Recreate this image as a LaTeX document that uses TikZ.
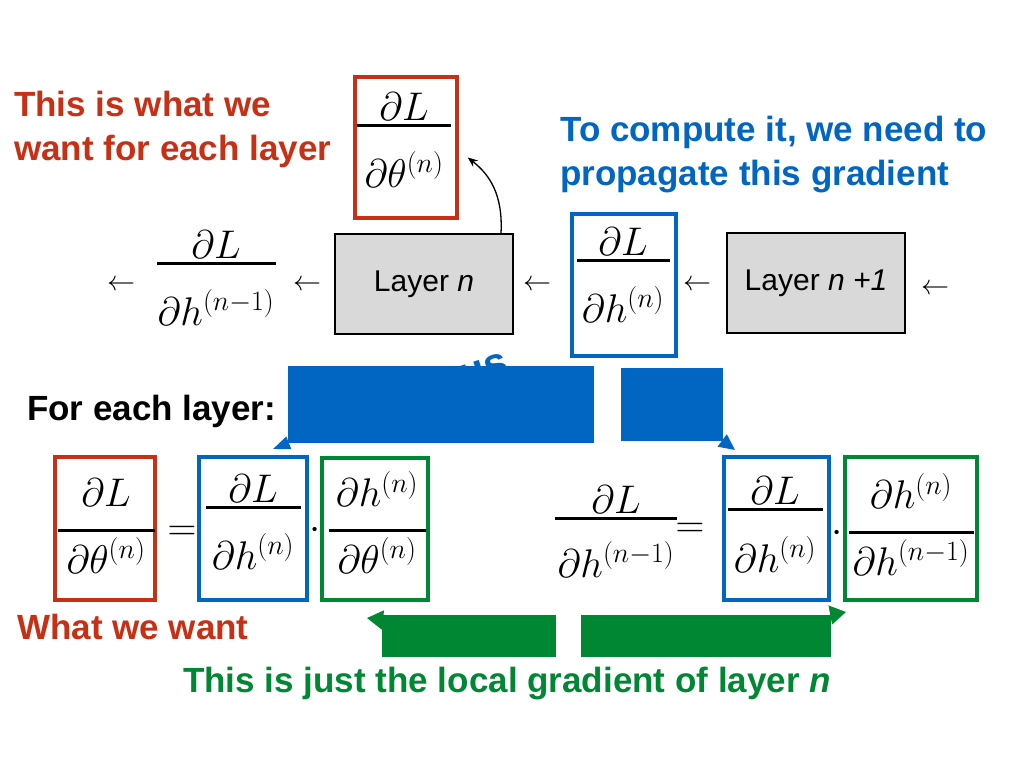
\documentclass[tikz,border=0pt]{standalone}
\usepackage{fix-cm}
\usepackage[no-math]{fontspec}
\setmainfont{Liberation Sans}
\usetikzlibrary{positioning,arrows.meta}

\definecolor{wantred}{RGB}{200,48,22}
\definecolor{propblue}{RGB}{0,102,194}
\definecolor{localgreen}{RGB}{0,135,52}
\definecolor{layergray}{RGB}{217,217,217}

\tikzset{
  gradbox/.style={draw, line width=3.5pt, inner sep=0pt},
  layerbox/.style={draw, line width=2pt, fill=layergray, minimum width=178pt,
    minimum height=100pt, font=\fontsize{30}{34}\selectfont},
  fbar/.style={fill=black, inner sep=0pt, minimum height=3pt},
  mtxt/.style={inner sep=0pt, font=\fontsize{40}{44}\selectfont},
  sym/.style={inner sep=0pt, anchor=base, font=\fontsize{40}{44}\selectfont},
  larrow/.style={inner sep=0pt, anchor=base, font=\fontsize{28}{30}\selectfont},
  note/.style={inner sep=0pt, font=\bfseries\fontsize{35}{44}\selectfont,
    align=left, anchor=north west},
  cover/.style={inner sep=0pt, draw=none},
}

% fraction: name, position, bar width, num gap, den gap, numerator, denominator
\newcommand\gfrac[7]{%
  \node[fbar, minimum width=#3] (#1) at #2 {};
  \node[mtxt, above=#4 of #1, anchor=base] (#1n) {$#6$};
  \node[mtxt, below=#5 of #1, anchor=base] (#1d) {$#7$};
}

\begin{document}
\begin{tikzpicture}[x=1pt, y=-1pt]
\useasboundingbox[fill=white] (0,0) rectangle (1024,768);

% what we want
\node[note, text=wantred] (wanttxt) at (14,91) {This is what we\\want for each layer};
\node[gradbox, draw=wantred, minimum width=102pt, minimum height=141pt] (wantbox) at (406,147.5) {};
\gfrac{fa}{(404,125)}{94pt}{2.5pt}{60.5pt}{\partial L}{\partial\theta^{(n)}}

\node[note, text=propblue] (proptxt) at (560,116) {To compute it, we need to\\propagate this gradient};

% chain of layers
\node[larrow] (a1) at (121,290) {$\leftarrow$};
\gfrac{fb}{(216,263)}{119pt}{2.5pt}{60.5pt}{\partial L}{\partial h^{(n-1)}}
\node[larrow] (a2) at (307,290) {$\leftarrow$};
\node[layerbox] (layern) at (424,284) {Layer \textit{n}};
\node[larrow] (a3) at (537,290) {$\leftarrow$};
\node[gradbox, draw=propblue, minimum width=104pt, minimum height=142pt] (propbox) at (624,285) {};
\gfrac{fc}{(623,260)}{93pt}{2.5pt}{60.5pt}{\partial L}{\partial h^{(n)}}
\node[larrow] (a4) at (697,290) {$\leftarrow$};
\node[layerbox] (layernn) at (816,283) {Layer \textit{n +1}};
\node[larrow] (a5) at (935,294) {$\leftarrow$};

\draw[line width=1.3pt, -{Stealth[length=10pt,width=8pt]}] ([xshift=-13pt]layern.north east)
  .. controls (503,195) and (490,175) .. ([shift={(9pt,-10pt)}]wantbox.east);

% covered blue arrow
\node[text=propblue, font=\bfseries\fontsize{42}{46}\selectfont, rotate=18, inner sep=0pt] (us) at (484,370) {us};
\node[cover, fill=propblue, minimum width=306pt, minimum height=77pt] (bcover1) at (441,404.5) {};
\node[cover, fill=propblue, minimum width=102pt, minimum height=73pt] (bcover2) at (672,404.5) {};
\coordinate (btipl) at (273,449);
\coordinate (btipr) at (735,450);
\draw[propblue, line width=2pt, -{Triangle[length=17pt,width=13pt]}] (bcover1.south west) -- (btipl);
\draw[propblue, line width=2pt, -{Triangle[length=16pt,width=15pt]}] (bcover2.south east) -- (btipr);

\node[note] (eachtxt) at (27,395) {For each layer:};

% chain rule, left
\node[gradbox, draw=wantred, minimum width=100pt, minimum height=143pt] (wantbox2) at (105,528.5) {};
\gfrac{fd}{(106,530)}{97pt}{21.5pt}{41.5pt}{\partial L}{\partial\theta^{(n)}}
\node[sym] (eq1) at (182,540) {$=$};
\node[gradbox, draw=propblue, minimum width=108pt, minimum height=143pt] (propbox2) at (253,528.5) {};
\gfrac{fe}{(253,507)}{95pt}{2.5pt}{60.5pt}{\partial L}{\partial h^{(n)}}
\node[sym] (dot1) at (315,539) {$\cdot$};
\node[gradbox, draw=localgreen, minimum width=106pt, minimum height=142pt] (localbox) at (375,529) {};
\gfrac{ff}{(377,530)}{97pt}{21.5pt}{41.5pt}{\partial h^{(n)}}{\partial\theta^{(n)}}

% chain rule, right
\gfrac{fg}{(616,518)}{122pt}{2.5pt}{57.5pt}{\partial L}{\partial h^{(n-1)}}
\node[sym] (eq2) at (690,537) {$=$};
\node[gradbox, draw=propblue, minimum width=105pt, minimum height=143pt] (propbox3) at (776.5,528.5) {};
\gfrac{fh}{(775,509)}{95pt}{2.5pt}{61.5pt}{\partial L}{\partial h^{(n)}}
\node[sym] (dot2) at (837,542) {$\cdot$};
\node[gradbox, draw=localgreen, minimum width=132pt, minimum height=143pt] (localbox2) at (911,528.5) {};
\gfrac{fi}{(911,532)}{125pt}{21.5pt}{41.5pt}{\partial h^{(n)}}{\partial h^{(n-1)}}

% covered green arrow
\node[cover, fill=localgreen, minimum width=174pt, minimum height=42pt] (gcover1) at (469,636) {};
\node[cover, fill=localgreen, minimum width=250pt, minimum height=42pt] (gcover2) at (706,636) {};
\coordinate (gtipl) at (367,618);
\coordinate (gtipr) at (846,612);
\draw[localgreen, line width=2pt, -{Triangle[length=16pt,width=19pt]}] ([yshift=-5pt]gcover1.north west) -- (gtipl);
\draw[localgreen, line width=2pt, -{Triangle[length=16pt,width=19pt]}] (gcover2.north east) -- (gtipr);

\node[note, text=wantred] (wewant) at (17,614) {What we want};
\node[note, text=localgreen] (localtxt) at (183,667) {This is just the local gradient of layer \textit{n}};
\end{tikzpicture}
\end{document}
